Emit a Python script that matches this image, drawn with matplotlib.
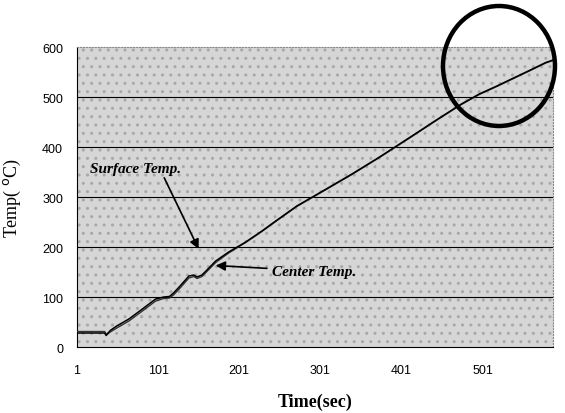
import matplotlib
matplotlib.use('Agg')
import matplotlib.pyplot as plt
from matplotlib.patches import Ellipse, Rectangle

# readings
time_s = [1, 35, 37, 42, 50, 65, 80, 98, 108, 115, 120, 127, 139, 145, 149, 155, 160, 172,
          188, 209, 229, 246, 272, 304, 340, 374, 414, 445, 475, 497, 520, 538, 560, 579, 588]
surface = [28, 28, 23, 33, 42, 56, 74, 96, 100, 101, 108, 120, 142, 144, 140, 144, 152, 172,
           190, 210, 232, 252, 282, 312, 346, 380, 422, 455, 486, 506, 523, 537, 554, 569, 574]
center = [31, 31, 26, 30, 38, 52, 70, 92, 97, 98, 104, 116, 138, 141, 137, 141, 149, 169,
          188, 209, 231, 251, 281, 311, 345, 379, 421, 454, 485, 505, 522, 536, 553, 568, 573]

xticks = [1, 101, 201, 301, 401, 501]
yticks = [0, 100, 200, 300, 400, 500, 600]

fig = plt.figure(figsize=(5.65, 4.14), dpi=100)
ax = fig.add_axes([0.1363, 0.1594, 0.8425, 0.7246])

ax.set_facecolor('#d6d6d6')
ax.add_patch(Rectangle((0, 0), 1, 1, transform=ax.transAxes, facecolor='none',
                       edgecolor='#a8a8a8', hatch='..', linewidth=0, zorder=0))

for y in yticks[1:-1]:
    ax.axhline(y, color='black', lw=0.8, zorder=1)

ax.plot(time_s, center, color='#333333', lw=1.0, zorder=3)
ax.plot(time_s, surface, color='black', lw=1.1, zorder=3)

ax.set_xlim(1, 588)
ax.set_ylim(0, 600)
ax.set_xticks(xticks)
ax.set_yticks(yticks)
ax.tick_params(length=0, labelsize=9, pad=12)
for lab in ax.get_xticklabels() + ax.get_yticklabels():
    lab.set_family('Liberation Sans')
ax.tick_params(axis='y', pad=10)

for s in ['top', 'right']:
    ax.spines[s].set_color('#888888')
    ax.spines[s].set_linestyle(':')
ax.spines['left'].set_color('black')
ax.spines['bottom'].set_color('black')

ax.set_xlabel('Time(sec)', family='Liberation Serif', fontsize=13, fontweight='bold', labelpad=12)
ax.set_ylabel('Temp( $^{\\mathrm{o}}$C)', family='Liberation Serif', fontsize=13, labelpad=14)

ax.annotate('Surface Temp.', xy=(151, 196), xytext=(17, 357), fontsize=11,
            family='Liberation Serif', style='italic', fontweight='bold',
            ha='left', va='center',
            arrowprops=dict(arrowstyle='-|>', color='black', lw=1.2,
                            shrinkA=0, shrinkB=0, mutation_scale=14,
                            relpos=(0.8, 0)))
ax.annotate('Center Temp.', xy=(172, 163), xytext=(242, 152), fontsize=11,
            family='Liberation Serif', style='italic', fontweight='bold',
            ha='left', va='center',
            arrowprops=dict(arrowstyle='-|>', color='black', lw=1.2,
                            shrinkA=2, shrinkB=0, mutation_scale=14))

fig.add_artist(Ellipse((499 / 565, 1 - 67 / 414), 112 / 565, 120 / 414,
                       transform=fig.transFigure, fill=False, edgecolor='black',
                       lw=3.2, zorder=10))

plt.savefig('out.png')
